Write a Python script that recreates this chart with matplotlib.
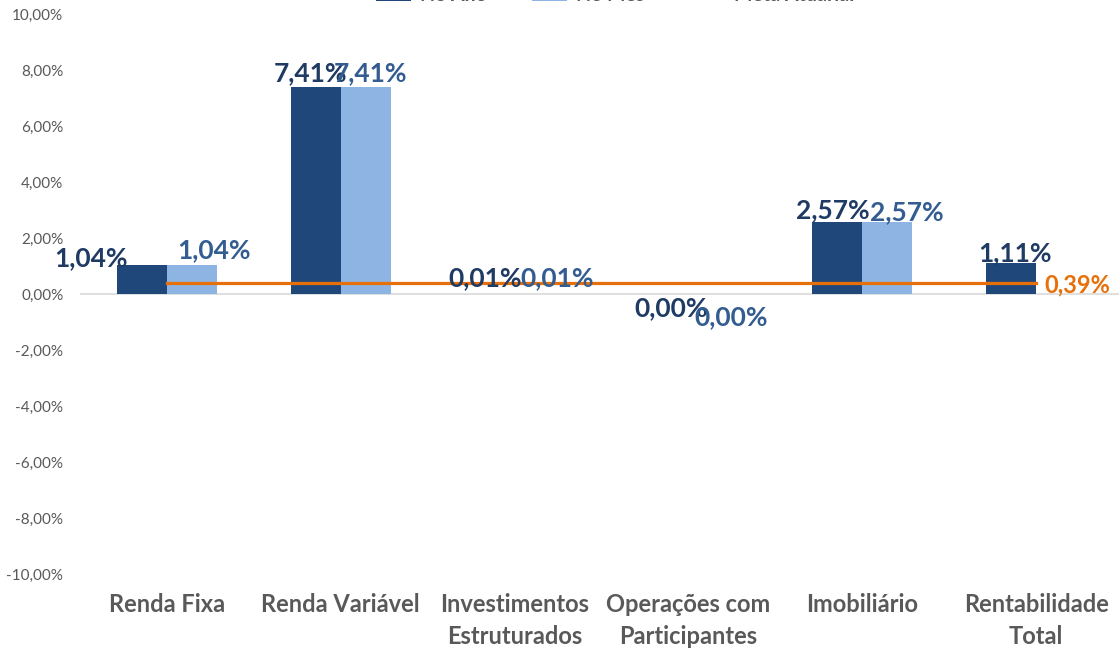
import numpy as np
import matplotlib
matplotlib.use("Agg")
import matplotlib.pyplot as plt
from matplotlib.ticker import FuncFormatter

categories = ["Renda Fixa", "Renda Variável", "Investimentos\nEstruturados",
              "Operações com\nParticipantes", "Imobiliário", "Rentabilidade\nTotal"]
no_ano = [1.04, 7.41, 0.01, 0.00, 2.57, 1.11]
no_mes = [1.04, 7.41, 0.01, 0.00, 2.57, np.nan]
meta_atuarial = [0.39, 0.39, 0.39, 0.39, 0.39, 0.39]
yticks = [-10, -8, -6, -4, -2, 0, 2, 4, 6, 8, 10]

# label offsets in pixels (dx, dy) relative to bar top centre
off_ano = [(-51, 7), (-5, 13), (-4, 16), (8, -14), (-4, 12), (4, 10)]
off_mes = [(22, 15), (5, 13), (18, 16), (18, -23), (20, 10), (0, 0)]

C_ANO = "#1F477A"
C_MES = "#8EB4E3"
C_ANO_TXT = "#1F3A63"
C_MES_TXT = "#335D91"
C_META = "#E8700A"
GRAY = "#595959"
FONT = "Lato"

def pct(v):
    return f"{v:.2f}%".replace(".", ",")

W, H = 1119, 648
fig = plt.figure(figsize=(W / 100, H / 100), dpi=100)
ax = fig.add_axes([80 / W, (H - 574) / H, 1043 / W, 560 / H])

x = np.arange(len(categories))
bw = 0.2877
b1 = ax.bar(x - bw / 2, no_ano, width=bw, color=C_ANO, label="No Ano", zorder=2)
b2 = ax.bar(x + bw / 2, no_mes, width=bw, color=C_MES, label="No Mês", zorder=2)
ln, = ax.plot(x, meta_atuarial, color=C_META, lw=2.3, label="Meta Atuarial", zorder=3)

ax.set_xlim(-0.5, len(categories) - 0.5)
ax.set_ylim(-10, 10)
ax.set_yticks(yticks)
ax.yaxis.set_major_formatter(FuncFormatter(lambda v, p: pct(v)))
ax.set_xticks(x)
ax.set_xticklabels(categories, fontfamily=FONT, fontweight="bold", fontsize=17,
                   color=GRAY, linespacing=1.45)
for lab in ax.get_yticklabels():
    lab.set_fontfamily(FONT)
    lab.set_fontsize(11)
    lab.set_color(GRAY)
ax.tick_params(axis="y", length=0, pad=12)
ax.tick_params(axis="x", length=0, pad=14)
for s in ax.spines.values():
    s.set_visible(False)
ax.axhline(0, color="#D9D9D9", lw=1.2, zorder=1)

for i, v in enumerate(no_ano):
    dx, dy = off_ano[i]
    ax.annotate(pct(v), xy=(x[i] - bw / 2, v), xytext=(dx, dy), textcoords="offset pixels",
                ha="center", va="center", fontsize=19, fontweight="bold",
                fontfamily=FONT, color=C_ANO_TXT, zorder=5)
for i, v in enumerate(no_mes):
    if np.isnan(v):
        continue
    dx, dy = off_mes[i]
    ax.annotate(pct(v), xy=(x[i] + bw / 2, v), xytext=(dx, dy), textcoords="offset pixels",
                ha="center", va="center", fontsize=19, fontweight="bold",
                fontfamily=FONT, color=C_MES_TXT, zorder=5)
ax.annotate(pct(meta_atuarial[-1]), xy=(x[-1], meta_atuarial[-1]), xytext=(41, -2),
            textcoords="offset pixels", ha="center", va="center", fontsize=17,
            fontweight="bold", fontfamily=FONT, color=C_META, zorder=5)

fig.legend(handles=[b1, b2, ln], loc="lower center", ncol=3, frameon=False,
           bbox_to_anchor=(615 / W, 1 - 14 / H), borderpad=0, handlelength=1.8,
           handletextpad=0.5, columnspacing=2.3,
           prop={"family": FONT, "size": 14, "weight": "bold"}, labelcolor=GRAY)

fig.savefig("out.png", dpi=100)
